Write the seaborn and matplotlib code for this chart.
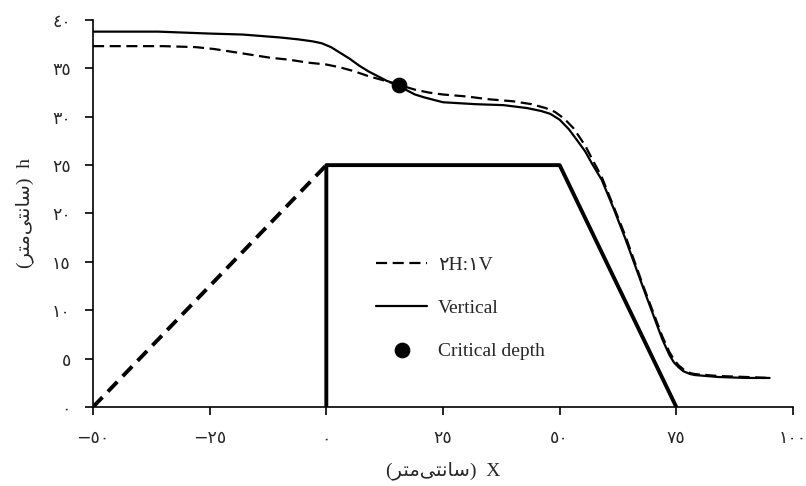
"""
Perfil de la superficie del agua sobre el vertedero (2H:1V vs vertical)
"""
import numpy as np
import pandas as pd
import matplotlib
matplotlib.use("Agg")
import matplotlib.pyplot as plt
import seaborn as sns

# --- datos ---
x_2h1v = [-50, -35, -28, -24, -20, -16, -12, -8, -4, 0, 3, 6, 9, 12, 15.5, 19, 22,
          25, 30, 35, 40, 44, 47, 49, 51, 53, 55.5, 57, 59, 61.5, 64, 68, 72, 73.5,
          74.5, 75.5, 76.5, 78, 79, 84, 90, 95]
h_2h1v = [37.3, 37.3, 37.2, 37.0, 36.7, 36.4, 36.1, 35.9, 35.6, 35.4, 35.1, 34.7,
          34.2, 33.8, 33.3, 32.8, 32.5, 32.3, 32.1, 31.8, 31.6, 31.3, 30.9, 30.5,
          29.8, 28.8, 27.0, 25.6, 23.8, 20.8, 17.8, 12.4, 7.3, 5.7, 4.9, 4.3, 3.9,
          3.5, 3.4, 3.2, 3.1, 3.0]

x_vert = [-50, -36, -25, -18, -10, -6, -3, -1, 1, 3, 5, 7, 9, 11, 13, 15.5, 17, 19,
          21, 25, 32, 38, 43, 46, 48, 50, 52, 54, 55.5, 57, 59, 61.5, 64, 68, 72,
          73.5, 74.5, 75.5, 76.5, 78, 79, 84, 90, 95]
h_vert = [38.8, 38.8, 38.6, 38.5, 38.2, 38.0, 37.8, 37.6, 37.2, 36.6, 36.0, 35.3,
          34.7, 34.2, 33.7, 33.3, 32.8, 32.3, 32.0, 31.5, 31.3, 31.2, 30.9, 30.6,
          30.3, 29.7, 28.7, 27.4, 26.4, 25.1, 23.5, 20.6, 17.5, 12.2, 7.0, 5.4,
          4.6, 4.1, 3.7, 3.4, 3.3, 3.1, 3.0, 3.0]

x_critical = [15.5]
h_critical = [33.3]

# geometria del vertedero
x_slope_up = [-50, 0]
h_slope_up = [0, 25]
x_weir = [0, 0, 50, 75]
h_weir = [0, 25, 25, 0]

x_ticks = [-50, -25, 0, 25, 50, 75, 100]
x_tick_labels = ["\u2212\u0665\u0660", "\u2212\u0662\u0665", "\u0660", "\u0662\u0665",
                 "\u0665\u0660", "\u0667\u0665", "\u0661\u0660\u0660"]
y_ticks = [0, 5, 10, 15, 20, 25, 30, 35, 40]
y_tick_labels = ["\u0660", "\u0665", "\u0661\u0660", "\u0661\u0665", "\u0662\u0660",
                 "\u0662\u0665", "\u0663\u0660", "\u0663\u0665", "\u0664\u0660"]

# "(سانتی‌متر)" en formas de presentacion, orden visual
unit = "(" + "\uFEAE\uFE98\uFEE3\uFEF0\uFE98\uFEE7\uFE8E\uFEB3" + ")"

sns.set_style("ticks")
plt.rcParams['font.family'] = ['DejaVu Sans']
serif = ['Liberation Serif', 'DejaVu Sans']

fig = plt.figure(figsize=(8.06, 4.86), dpi=100)
ax = fig.add_axes([0.1154, 0.1626, 0.8684, 0.7962])

df_2h = pd.DataFrame({'x': x_2h1v, 'h': h_2h1v})
df_v = pd.DataFrame({'x': x_vert, 'h': h_vert})

sns.lineplot(data=df_2h, x='x', y='h', ax=ax, color='black', lw=1.6,
             estimator=None, sort=False, label="\u0662H:\u0661V")
ax.lines[-1].set_dashes([5, 2.5])
sns.lineplot(data=df_v, x='x', y='h', ax=ax, color='black', lw=1.6,
             estimator=None, sort=False, label="Vertical")

# vertedero
sns.lineplot(x=x_slope_up, y=h_slope_up, ax=ax, color='black', lw=2.8,
             estimator=None, sort=False, legend=False)
ax.lines[-1].set_dashes([3.5, 2])
sns.lineplot(x=x_weir, y=h_weir, ax=ax, color='black', lw=2.8,
             estimator=None, sort=False, legend=False)

sns.scatterplot(x=x_critical, y=h_critical, ax=ax, color='black', s=110,
                edgecolor='black', zorder=5, label="Critical depth")

ax.set_xlim(-50, 100)
ax.set_ylim(0, 40)
ax.set_xticks(x_ticks)
ax.set_xticklabels(x_tick_labels, fontsize=12.5)
ax.set_yticks(y_ticks)
ax.set_yticklabels(y_tick_labels, fontsize=12.5)
ax.tick_params(axis='both', direction='out', length=6, width=1.2, color='black', pad=10)
for side in ['top', 'right']:
    ax.spines[side].set_visible(False)
for side in ['left', 'bottom']:
    ax.spines[side].set_linewidth(1.2)
    ax.spines[side].set_color('black')

ax.set_xlabel(unit + "  X", fontsize=14, family=serif, labelpad=10)
ax.set_ylabel(unit + "  h", fontsize=14, family=serif)
ax.yaxis.set_label_coords(-0.085, 0.5)

leg = ax.legend(loc='upper left', bbox_to_anchor=(0.38, 0.435), frameon=False,
                prop={'family': serif, 'size': 14}, handlelength=2.6,
                labelspacing=1.3, handletextpad=0.55)

fig.savefig('out.png', dpi=100)
plt.close(fig)
